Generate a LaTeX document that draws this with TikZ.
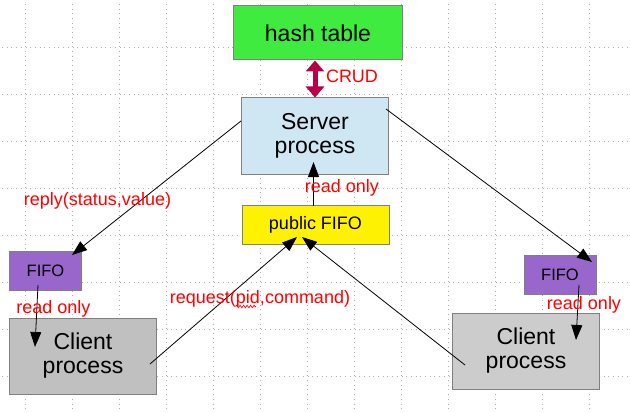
\documentclass[tikz,border=0pt]{standalone}
\usepackage{fontspec}
\setmainfont{Liberation Sans}
\usetikzlibrary{arrows.meta,decorations.pathmorphing}
\definecolor{htgreen}{RGB}{63,235,63}
\definecolor{srvblue}{RGB}{207,230,243}
\definecolor{fifopurple}{RGB}{153,102,204}
\definecolor{cligrayA}{RGB}{192,192,192}
\definecolor{cligrayB}{RGB}{204,204,204}
\definecolor{crudred}{RGB}{185,0,70}
\definecolor{edgegray}{RGB}{128,128,128}
\definecolor{gridgray}{RGB}{175,175,175}
\tikzset{
  boxnode/.style={draw=edgegray, line width=1pt, inner sep=0pt, align=center},
  bigtext/.style={font=\fontsize{23}{24}\selectfont},
  midtext/.style={font=\fontsize{18}{20}\selectfont},
  fifotext/.style={font=\fontsize{16.5}{18}\selectfont},
  redlabel/.style={text=red, font=\fontsize{18}{20}\selectfont, inner sep=0pt, anchor=base},
  conn/.style={line width=0.8pt, -{Triangle[length=15pt,width=11pt]}},
  gridline/.style={gridgray, line width=0.9pt, dash pattern=on 0.9pt off 3.8pt}
}
\begin{document}
\begin{tikzpicture}[x=1pt,y=-1pt]
\useasboundingbox (0,0) rectangle (630,412);
% grid
\foreach \gx in {25,72,119,166,213,260,307,354,401,448,495,542,589}
  \draw[gridline] (\gx,4) -- (\gx,412);
\foreach \gy in {47,94,141,188,235,282,329,376}
  \draw[gridline] (2,\gy) -- (630,\gy);
% nodes
\node[boxnode, fill=htgreen, minimum width=169pt, minimum height=54pt, bigtext] (ht) at (318,33) {hash table};
\node[boxnode, fill=srvblue, minimum width=147pt, minimum height=76pt, bigtext] (srv) at (315,136) {Server\\process};
\node[boxnode, fill=yellow, minimum width=147pt, minimum height=39pt, midtext] (pub) at (315.5,225) {public FIFO};
\node[boxnode, fill=fifopurple, minimum width=72pt, minimum height=39pt, fifotext] (fifoL) at (45.5,270.5) {FIFO};
\node[boxnode, fill=fifopurple, minimum width=72pt, minimum height=39pt, fifotext] (fifoR) at (560,274.5) {FIFO};
\node[boxnode, fill=cligrayA, minimum width=147pt, minimum height=76pt, bigtext] (cliL) at (83,356) {Client\\process};
\node[boxnode, fill=cligrayB, minimum width=147pt, minimum height=76pt, bigtext] (cliR) at (526,351) {Client\\process};
% CRUD double arrow
\draw[crudred, line width=5pt, {Triangle[length=11pt,width=18pt]}-{Triangle[length=11pt,width=18pt]}] (ht.south -| 315,0) -- (srv.north -| 315,0);
\node[redlabel] (crud) at (352,82.5) {CRUD};
% connector end points
\coordinate (sL) at (241,121);
\coordinate (tL) at (72,255);
\coordinate (sR) at (386,109);
\coordinate (tR) at (592,262);
\coordinate (pubtop) at (313.5,205.5);
\coordinate (srvin) at (313.5,162);
\coordinate (cLs) at (150,364);
\coordinate (pubinL) at (297,237);
\coordinate (cRs) at (465,365);
\coordinate (pubinR) at (302,237);
\coordinate (fLs) at (38,285);
\coordinate (cLin) at (35,347);
\coordinate (fRs) at (579,285);
\coordinate (cRin) at (576,340);
% connectors
\draw[conn] (sL) -- (tL);
\draw[conn] (sR) -- (tR);
\draw[conn] (pubtop) -- (srvin);
\draw[conn] (cLs) -- (pubinL);
\draw[conn] (cRs) -- (pubinR);
\draw[conn] (fLs) -- (cLin);
\draw[conn] (fRs) -- (cRin);
% labels
\node[redlabel] (lreply) at (97.5,205) {reply(status,value)};
\node[redlabel] (lroL) at (53.5,313) {read only};
\node[redlabel] (lroC) at (342,193) {read only};
\node[redlabel] (lroR) at (584,309.5) {read only};
\node[redlabel] (lreq) at (260,303) {request(pid,command)};
\draw[red, line width=0.7pt, decorate, decoration={snake, amplitude=1.2pt, segment length=3.5pt}] (235.5,306.5) -- (256,306.5);
\end{tikzpicture}
\end{document}
